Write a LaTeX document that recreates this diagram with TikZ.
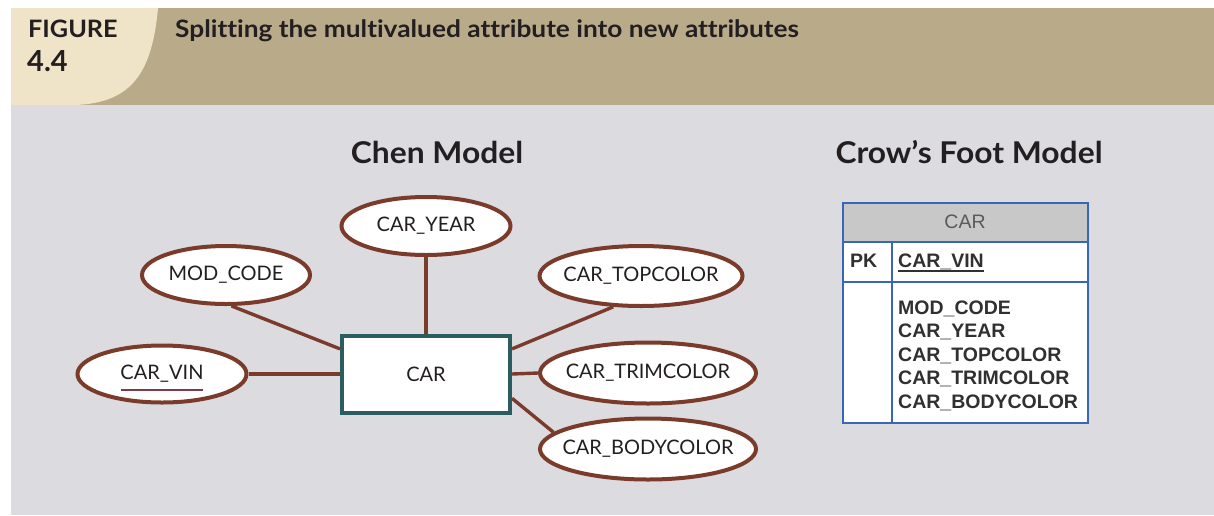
\documentclass[tikz,border=0pt]{standalone}
\usepackage{fontspec}
\setmainfont{Lato}[Ligatures=NoCommon]
\newfontfamily\tabfont{Liberation Sans}
\usetikzlibrary{shapes.geometric,calc}
\definecolor{tanbg}{RGB}{185,170,138}
\definecolor{creambg}{RGB}{240,228,200}
\definecolor{graybg}{RGB}{220,219,224}
\definecolor{erbrown}{RGB}{123,59,43}
\definecolor{erteal}{RGB}{43,92,96}
\definecolor{tabblue}{RGB}{58,102,184}
\definecolor{tabhead}{RGB}{200,200,200}
\definecolor{tabtext}{RGB}{48,48,48}
\definecolor{txtdark}{RGB}{35,31,32}
\definecolor{vinline}{RGB}{128,58,72}
\newcommand{\zw}[1]{\makebox[0pt]{#1}}
\tikzset{
  attr/.style={ellipse, draw=erbrown, line width=4pt, fill=white, inner sep=0pt,
    text=txtdark, font=\fontsize{20}{24}\selectfont},
  entity/.style={rectangle, draw=erteal, line width=4pt, fill=white, inner sep=0pt,
    minimum width=168pt, minimum height=77pt, text=txtdark, font=\fontsize{20}{24}\selectfont},
  link/.style={draw=erbrown, line width=3.4pt},
  heading/.style={font=\bfseries\fontsize{30}{34}\selectfont, text=txtdark, inner sep=0pt, xscale=1.06},
  tabtxt/.style={font=\tabfont\bfseries\fontsize{19.5}{22}\selectfont, text=tabtext, inner sep=0pt, anchor=base west},
  tabline/.style={draw=tabblue, line width=2.2pt}
}
\begin{document}
\begin{tikzpicture}[x=1pt,y=-1pt]
\useasboundingbox (0,0) rectangle (1214,515);
% backgrounds
\fill[white] (0,0) rectangle (1214,515);
\fill[tanbg] (11,8) rectangle (1214,105);
\fill[graybg] (11,105) rectangle (1214,515);
\fill[creambg] (11,8) -- (158,8) .. controls (152,75) and (130,103) .. (75,105) -- (11,105) -- cycle;
% header texts
\node[anchor=base west, inner sep=0pt, text=txtdark, font=\bfseries\fontsize{24}{26}\selectfont, xscale=1.05] (figlbl) at (28,37) {FIGURE};
\node[anchor=base west, inner sep=0pt, text=txtdark, font=\bfseries\fontsize{29}{30}\selectfont] (fignum) at (27,71) {4.4};
\node[anchor=base west, inner sep=0pt, text=txtdark, font=\bfseries\fontsize{24}{26}\selectfont, xscale=1.095] (title) at (175,37) {Splitting the multivalued attribute into new attributes};
% headings
\node[heading, anchor=base] (chen) at (437,163) {Chen Model};
\node[heading, anchor=base] (crow) at (969,163) {Crow’s Foot Model};
% Chen model
\node[entity] (car) at (426,374) {CAR};
\node[attr, minimum width=169pt, minimum height=58pt] (year) at (426,226) {\zw{CAR\_YEAR}};
\node[attr, minimum width=168pt, minimum height=58pt] (mod) at (226,275) {\zw{MOD\_CODE}};
\node[attr, minimum width=203pt, minimum height=60pt] (top) at (641,276) {\zw{CAR\_TOPCOLOR}};
\node[attr, minimum width=169pt, minimum height=57pt] (vin) at (162,374) {\zw{CAR\_VIN}};
\node[attr, minimum width=216pt, minimum height=61pt] (trim) at (648,373) {\zw{CAR\_TRIMCOLOR}};
\node[attr, minimum width=216pt, minimum height=61pt] (body) at (648,449) {\zw{CAR\_BODYCOLOR}};
\draw[vinline, line width=2.4pt] ($(vin.center)+(-41,16)$) -- ($(vin.center)+(41,16)$);
\coordinate (carwu) at ($(car.north west)!0.19!(car.south west)$);
\coordinate (careu) at ($(car.north east)!0.19!(car.south east)$);
\coordinate (carel) at ($(car.north east)!0.8!(car.south east)$);
\draw[link] (mod.-80) -- (carwu);
\draw[link] (year.south) -- (car.north);
\draw[link] (top.228) -- (careu);
\draw[link] (vin.east) -- (car.west);
\draw[link] (car.east) -- (trim.west);
\draw[link] (carel) -- (body.170);
% Crow's Foot table
\fill[white] (843,203) rectangle (1088,423);
\fill[tabhead] (843,203) rectangle (1088,242);
\node[font=\tabfont\fontsize{19.5}{22}\selectfont, text=tabtext!80, inner sep=0pt] (tname) at (965,222) {CAR};
\draw[tabline] (843,203) rectangle (1088,423);
\draw[tabline] (843,242) -- (1088,242);
\draw[tabline] (843,282) -- (1088,282);
\draw[tabline] (892,242) -- (892,423);
\node[tabtxt] (pk) at (850,267) {PK};
\node[tabtxt] (pkattr) at (898,267) {CAR\_VIN};
\draw[tabtext, line width=1.6pt] ($(pkattr.base west)+(0,4)$) -- ($(pkattr.base east)+(0,4)$);
\node[tabtxt] (a1) at (898,314) {MOD\_CODE};
\node[tabtxt] (a2) at (898,337.5) {CAR\_YEAR};
\node[tabtxt] (a3) at (898,361) {CAR\_TOPCOLOR};
\node[tabtxt] (a4) at (898,384.5) {CAR\_TRIMCOLOR};
\node[tabtxt] (a5) at (898,408) {CAR\_BODYCOLOR};
\end{tikzpicture}
\end{document}
